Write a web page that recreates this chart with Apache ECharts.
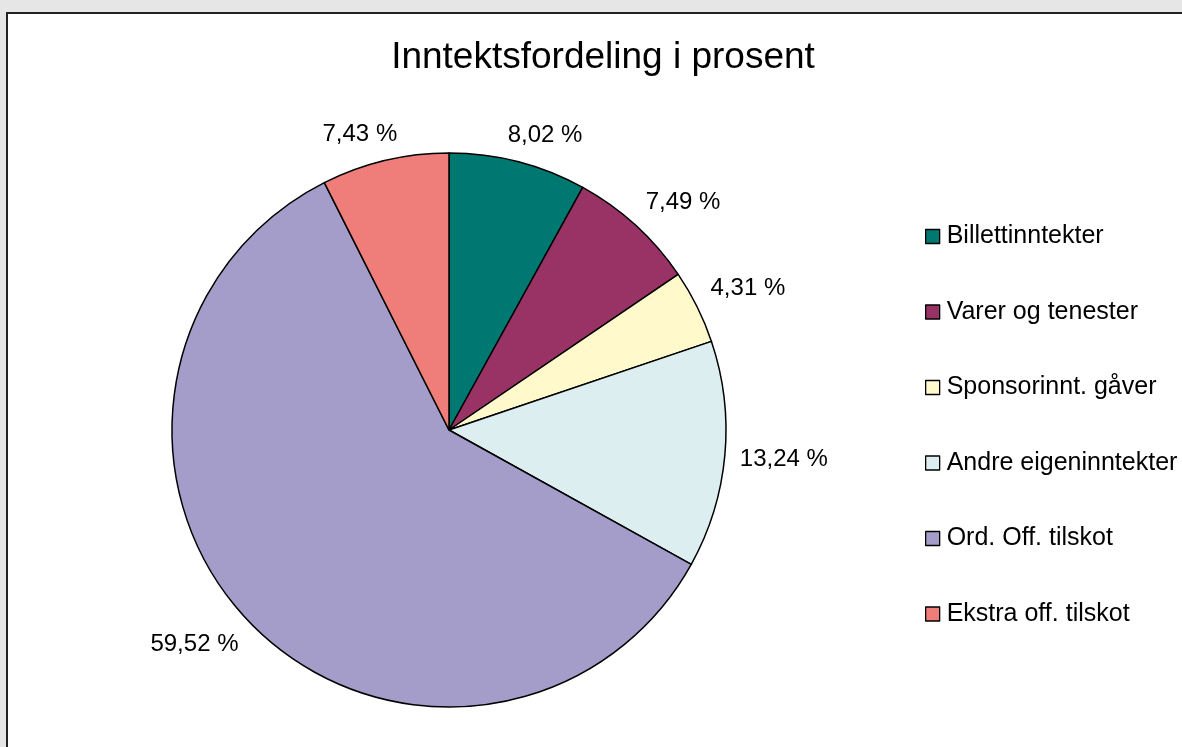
<!DOCTYPE html>
<html><head><meta charset="utf-8">
<script src="https://cdn.jsdelivr.net/npm/echarts@6/dist/echarts.min.js"></script>
<style>html,body{margin:0;padding:0;background:#e6e6e6}#c{width:1182px;height:747px}</style>
</head><body><div id="c"></div>
<script>
var categories = ['Billettinntekter','Varer og tenester','Sponsorinnt. gåver','Andre eigeninntekter','Ord. Off. tilskot','Ekstra off. tilskot'];
var values = [8.02, 7.49, 4.31, 13.24, 59.52, 7.43];
var colors = ['#007872','#993366','#FFF9CC','#DDEEF0','#A49DCA','#EF7E7A'];
var titleText = 'Inntektsfordeling i prosent';

var CX = 449, CY = 430, R = 277, GAP = 15;
var total = values.reduce(function(a,b){return a+b;},0);
function midAngle(i){
  var cum = 0; for (var k=0;k<i;k++) cum += values[k];
  return -Math.PI/2 + 2*Math.PI*(cum + values[i]/2)/total;
}
function f(t){ return Math.sign(t)*Math.min(1, 2.5*Math.abs(t)); }

var chart = echarts.init(document.getElementById('c'));
var font = '"Liberation Sans", Arial, sans-serif';
chart.setOption({
  backgroundColor: '#e6e6e6',
  animation: false,
  graphic: [{type:'rect', shape:{x:7,y:13,width:1200,height:800}, style:{fill:'#fff', stroke:'#222', lineWidth:2}, z:-10}],
  title: {text: titleText, left: 598, top: 34, textAlign:'center',
    textStyle:{fontFamily:font, fontSize:37, fontWeight:'normal', color:'#000'}},
  color: colors,
  legend: {orient:'vertical', left: 920, top: 219, itemWidth:14, itemHeight:14, itemGap:50.5,
    icon:'rect', data: categories,
    itemStyle:{borderColor:'#000', borderWidth:1.3},
    textStyle:{fontFamily:font, fontSize:25, lineHeight:25, color:'#000', padding:[0,0,0,2]}},
  series: [{
    type:'pie', center:[CX,CY], radius:R, startAngle:90, clockwise:true,
    itemStyle:{borderColor:'#000', borderWidth:1.5},
    label:{show:true, position:'outside', fontFamily:font, fontSize:24, color:'#000',
      formatter: function(p){return p.value.toFixed(2).replace('.',',')+' %';}},
    labelLine:{show:false},
    labelLayout: function(params){
      var a = midAngle(params.dataIndex);
      var sx = Math.cos(a), sy = Math.sin(a);
      var w = params.labelRect.width/2, h = params.labelRect.height/2;
      return {
        x: CX + (R+GAP)*sx + w*f(sx),
        y: CY + (R+GAP)*sy + h*f(sy),
        align:'center', verticalAlign:'middle'
      };
    },
    emphasis:{disabled:true},
    data: categories.map(function(c,i){return {name:c, value:values[i]};})
  }]
});
</script></body></html>
